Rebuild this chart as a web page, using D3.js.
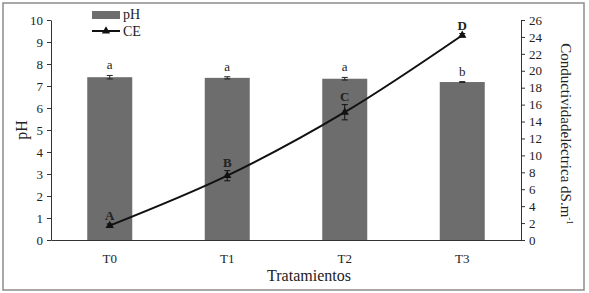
<!DOCTYPE html>
<html>
<head>
<meta charset="utf-8">
<script src="https://cdn.jsdelivr.net/npm/d3@7"></script>
<style>
  body { margin: 0; background: #fff; }
  svg { display: block; }
  text { font-family: "Liberation Serif", "DejaVu Serif", serif; fill: #222; }
</style>
</head>
<body>
<svg id="chart" width="589" height="293"></svg>
<script>
const categories = ["T0", "T1", "T2", "T3"];
const phValues = [7.40, 7.37, 7.33, 7.18];
const phErrors = [0.08, 0.05, 0.06, 0.02];
const phLetters = ["a", "a", "a", "b"];
const ceValues = [1.7, 7.6, 15.1, 24.2];
const ceErrors = [0.2, 0.6, 0.9, 0.2];
const ceLetters = ["A", "B", "C", "D"];
const phTicks = [0, 1, 2, 3, 4, 5, 6, 7, 8, 9, 10];
const ceTicks = [0, 2, 4, 6, 8, 10, 12, 14, 16, 18, 20, 22, 24, 26];

const svg = d3.select("#chart");
const plotL = 51, plotR = 521, plotT = 20, plotB = 240;

svg.append("rect").attr("x", 3).attr("y", 3).attr("width", 581).attr("height", 287)
  .attr("fill", "none").attr("stroke", "#8c8c8c").attr("stroke-width", 1.5);

const x = d3.scaleBand().domain(categories).range([plotL, plotR]).paddingInner(0.617).paddingOuter(0.3085);
const yPH = d3.scaleLinear().domain([0, 10]).range([plotB, plotT]);
const yCE = d3.scaleLinear().domain([0, 26]).range([plotB, plotT]);
const cx = d => x(d) + x.bandwidth() / 2;

// bars
svg.selectAll("rect.bar").data(categories).join("rect").attr("class", "bar")
  .attr("x", d => x(d)).attr("width", x.bandwidth())
  .attr("y", (d, i) => yPH(phValues[i])).attr("height", (d, i) => plotB - yPH(phValues[i]))
  .attr("fill", "#6d6d6d");

// pH error bars
categories.forEach((c, i) => {
  const g = svg.append("g").attr("stroke", "#222").attr("stroke-width", 1);
  const y1 = yPH(phValues[i] + phErrors[i]), y2 = yPH(phValues[i] - phErrors[i]);
  g.append("line").attr("x1", cx(c)).attr("x2", cx(c)).attr("y1", y1).attr("y2", y2);
  g.append("line").attr("x1", cx(c) - 3).attr("x2", cx(c) + 3).attr("y1", y1).attr("y2", y1);
  g.append("line").attr("x1", cx(c) - 3).attr("x2", cx(c) + 3).attr("y1", y2).attr("y2", y2);
  svg.append("text").attr("x", cx(c)).attr("y", yPH(phValues[i] + phErrors[i]) - 6)
    .attr("text-anchor", "middle").attr("font-size", 13).text(phLetters[i]);
});

// axes
const axL = svg.append("g").attr("transform", `translate(${plotL},0)`)
  .call(d3.axisLeft(yPH).tickValues(phTicks).tickSize(4).tickSizeOuter(0));
const axR = svg.append("g").attr("transform", `translate(${plotR},0)`)
  .call(d3.axisRight(yCE).tickValues(ceTicks).tickSize(4).tickSizeOuter(0));
const axB = svg.append("g").attr("transform", `translate(0,${plotB})`)
  .call(d3.axisBottom(x).tickSize(0).tickSizeOuter(0));
[axL, axR, axB].forEach(a => {
  a.selectAll("path, line").attr("stroke", "#333");
  a.selectAll("text").attr("font-family", "Liberation Serif, serif").attr("font-size", 13).attr("fill", "#222");
});
axL.selectAll("text").attr("x", -8);
axR.selectAll("text").attr("x", 8);
axB.selectAll("text").attr("dy", "1.05em").attr("y", 9);

// CE line
const line = d3.line().x((d, i) => cx(categories[i])).y(d => yCE(d)).curve(d3.curveCatmullRom.alpha(0.5));
svg.append("path").datum(ceValues).attr("d", line).attr("fill", "none")
  .attr("stroke", "#111").attr("stroke-width", 2);

const tri = d3.symbol().type(d3.symbolTriangle).size(30);
categories.forEach((c, i) => {
  const g = svg.append("g").attr("stroke", "#111").attr("stroke-width", 1);
  const y1 = yCE(ceValues[i] + ceErrors[i]), y2 = yCE(ceValues[i] - ceErrors[i]);
  g.append("line").attr("x1", cx(c)).attr("x2", cx(c)).attr("y1", y1).attr("y2", y2);
  g.append("line").attr("x1", cx(c) - 3).attr("x2", cx(c) + 3).attr("y1", y1).attr("y2", y1);
  g.append("line").attr("x1", cx(c) - 3).attr("x2", cx(c) + 3).attr("y1", y2).attr("y2", y2);
  svg.append("path").attr("d", tri).attr("transform", `translate(${cx(c)},${yCE(ceValues[i])})`).attr("fill", "#111");
  svg.append("text").attr("x", cx(c)).attr("y", yCE(ceValues[i] + ceErrors[i]) - 4)
    .attr("text-anchor", "middle").attr("font-size", 13).attr("font-weight", "bold").text(ceLetters[i]);
});

// axis titles
svg.append("text").attr("transform", `translate(27,130) rotate(-90)`).attr("text-anchor", "middle")
  .attr("font-size", 16).text("pH");
const rt = svg.append("text").attr("transform", `translate(561,134) rotate(90)`).attr("text-anchor", "middle")
  .attr("font-size", 15);
rt.append("tspan").text("Conductividadeléctrica dS.m");
rt.append("tspan").attr("font-size", 9).attr("dy", -6).text("-1");
svg.append("text").attr("x", 309).attr("y", 281).attr("text-anchor", "middle").attr("font-size", 16).text("Tratamientos");

// legend
svg.append("rect").attr("x", 92).attr("y", 11).attr("width", 28).attr("height", 8).attr("fill", "#6d6d6d");
svg.append("text").attr("x", 123).attr("y", 19).attr("font-size", 14).text("pH");
svg.append("line").attr("x1", 92).attr("x2", 120).attr("y1", 31).attr("y2", 31).attr("stroke", "#111").attr("stroke-width", 2);
svg.append("path").attr("d", tri).attr("transform", "translate(106,31)").attr("fill", "#111");
svg.append("text").attr("x", 123).attr("y", 36).attr("font-size", 14).text("CE");
</script>
</body>
</html>
